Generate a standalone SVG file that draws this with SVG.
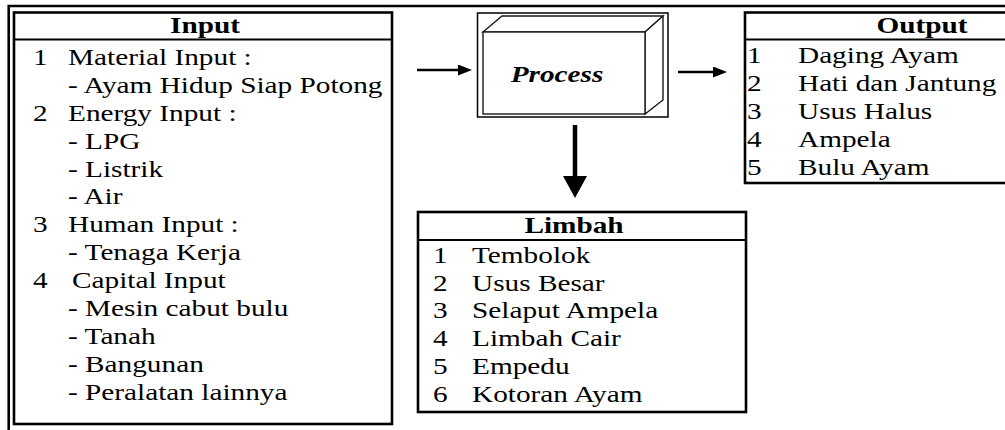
<svg xmlns="http://www.w3.org/2000/svg" width="1005" height="430" viewBox="0 0 1005 430">
<style>
.t{font-family:"Liberation Serif","Times New Roman",serif;font-size:24px;fill:#000}
.h{font-weight:bold;text-anchor:middle}
.box{fill:#fff;stroke:#000;stroke-width:2.6}
.sep{stroke:#000;stroke-width:2}
.frame{stroke:#000;stroke-width:2.6;fill:none}
.conn{stroke:#000;fill:none}
.cube{fill:#fff;stroke:#1a1a1a;stroke-width:1.4;stroke-linejoin:miter}
</style>
<defs>
<marker id="ah" markerUnits="userSpaceOnUse" markerWidth="14" markerHeight="11" refX="6" refY="5.5" orient="auto">
<path d="M0,0 L14,5.5 L0,11 z" fill="#000"/>
</marker>
<marker id="ahd" markerUnits="userSpaceOnUse" markerWidth="22" markerHeight="24" refX="6" refY="12" orient="auto">
<path d="M0,0 L22,12 L0,24 z" fill="#000"/>
</marker>
</defs>
<rect width="1005" height="430" fill="#fff"/>
<g id="frame">
<path class="frame" d="M8.7,430 L8.7,6 L1005,6"/>
</g>
<g id="input">
<rect class="box" x="14" y="12.5" width="378" height="411.5"/>
<line class="sep" x1="14" y1="39.5" x2="392" y2="39.5"/>
<g class="t" transform="scale(1.22,1)">
<text class="h" x="168.03" y="33.5">Input</text>
<text x="27.05" y="65">1</text><text x="55.74" y="65">Material Input :</text>
<text x="55.74" y="92.9">- Ayam Hidup Siap Potong</text>
<text x="27.05" y="120.8">2</text><text x="55.74" y="120.8">Energy Input :</text>
<text x="55.74" y="148.7">- LPG</text>
<text x="55.74" y="176.6">- Listrik</text>
<text x="55.74" y="204.5">- Air</text>
<text x="27.05" y="232.4">3</text><text x="55.74" y="232.4">Human Input :</text>
<text x="55.74" y="260.3">- Tenaga Kerja</text>
<text x="27.05" y="288.2">4</text><text x="59.02" y="288.2">Capital Input</text>
<text x="55.74" y="316.1">- Mesin cabut bulu</text>
<text x="55.74" y="344">- Tanah</text>
<text x="55.74" y="371.9">- Bangunan</text>
<text x="55.74" y="399.8">- Peralatan lainnya</text>
</g>
</g>
<g id="process">
<rect x="477.5" y="13" width="190.5" height="104" fill="#fff" stroke="#000" stroke-width="1.5"/>
<polygon class="cube" points="483,32 502,16 663,16 645,32"/>
<polygon class="cube" points="645,32 663,16 663,100 645,114"/>
<rect class="cube" x="483" y="32" width="162" height="82"/>
<g class="t" transform="scale(1.22,1)">
<text class="h" x="456.56" y="82" font-style="italic">Process</text>
</g>
</g>
<g id="output">
<rect class="box" x="745" y="12.5" width="360" height="170.5"/>
<line class="sep" x1="745" y1="39.5" x2="1005" y2="39.5"/>
<g class="t" transform="scale(1.22,1)">
<text class="h" x="755.74" y="33.5">Output</text>
<text x="612.3" y="63">1</text><text x="654.1" y="63">Daging Ayam</text>
<text x="612.3" y="91">2</text><text x="654.1" y="91">Hati dan Jantung</text>
<text x="612.3" y="119">3</text><text x="654.1" y="119">Usus Halus</text>
<text x="612.3" y="147">4</text><text x="654.1" y="147">Ampela</text>
<text x="612.3" y="175">5</text><text x="654.1" y="175">Bulu Ayam</text>
</g>
</g>
<g id="limbah">
<rect class="box" x="418" y="212" width="328" height="200"/>
<line class="sep" x1="418" y1="240" x2="746" y2="240"/>
<g class="t" transform="scale(1.22,1)">
<text class="h" x="470.5" y="233.5">Limbah</text>
<text x="354.9" y="263">1</text><text x="386.9" y="263">Tembolok</text>
<text x="354.9" y="291">2</text><text x="386.9" y="291">Usus Besar</text>
<text x="354.9" y="318.5">3</text><text x="386.9" y="318.5">Selaput Ampela</text>
<text x="354.9" y="346.5">4</text><text x="386.9" y="346.5">Limbah Cair</text>
<text x="354.9" y="374">5</text><text x="386.9" y="374">Empedu</text>
<text x="354.9" y="402">6</text><text x="386.9" y="402">Kotoran Ayam</text>
</g>
</g>
<g id="connectors">
<line class="conn" x1="417" y1="70" x2="464" y2="70" stroke-width="2.5" marker-end="url(#ah)"/>
<line class="conn" x1="678" y1="72" x2="719" y2="72" stroke-width="2.5" marker-end="url(#ah)"/>
<line class="conn" x1="575" y1="125" x2="575" y2="182" stroke-width="4.5" marker-end="url(#ahd)"/>
</g>
</svg>
